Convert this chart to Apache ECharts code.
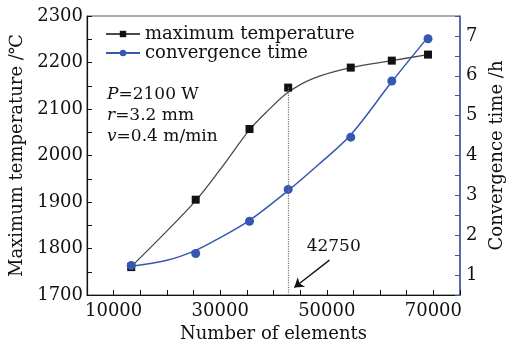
<!DOCTYPE html>
<html>
<head>
<meta charset="utf-8">
<script src="https://cdn.jsdelivr.net/npm/echarts@6/dist/echarts.min.js"></script>
<style>
  html, body { margin: 0; padding: 0; background: #fff; }
  #chart { width: 514px; height: 344px; }
</style>
</head>
<body>
<div id="chart"></div>
<script>
// measured points
var elements = [13300, 25400, 35500, 42750, 54500, 62200, 69000];
var maxTemperature = [1760, 1905, 2057, 2146, 2189, 2204, 2217];
var convergenceTime = [1.24, 1.54, 2.35, 3.15, 4.46, 5.87, 6.93];

// fitted curves
var tempCurveX = [13300, 19000, 25400, 30000, 35500, 39000, 42750, 47500, 54500, 62200, 69000];
var tempCurveY = [1761, 1826, 1903, 1970, 2055, 2097, 2136, 2166, 2189, 2204, 2217];
var timeCurveX = [13300, 20000, 25400, 30000, 35500, 42750, 48500, 54500, 62200, 69000];
var timeCurveY = [1.22, 1.37, 1.62, 1.94, 2.37, 3.12, 3.78, 4.52, 5.85, 6.97];

var xTickLabels = [10000, 30000, 50000, 70000];
var markedElements = 42750;

var fontFamily = '"DejaVu Serif", serif';
var blue = '#3557b0';
var dark = '#4a4a4a';

var chart = echarts.init(document.getElementById('chart'));

function pairs(xs, ys) {
	return xs.map(function (x, i) { return [x, ys[i]]; });
}

var option = {
	backgroundColor: '#fff',
	animation: false,
	textStyle: { fontFamily: fontFamily },
	grid: {
		left: 87,
		right: 54,
		top: 16,
		bottom: 49,
		outerBoundsMode: 'none',
		containLabel: false,
		show: true,
		borderColor: '#555',
		borderWidth: 1
	},
	legend: {
		orient: 'vertical',
		left: 100,
		top: 20,
		itemWidth: 34,
		itemHeight: 8,
		itemGap: 1,
		textStyle: { fontFamily: fontFamily, fontSize: 18, color: '#111' },
		data: ['maximum temperature', 'convergence time']
	},
	xAxis: {
		type: 'value',
		min: 5000,
		max: 75000,
		interval: 5000,
		name: 'Number of elements',
		nameLocation: 'middle',
		nameGap: 30,
		nameTextStyle: { fontFamily: fontFamily, fontSize: 18, color: '#111' },
		axisLine: { lineStyle: { color: '#111', width: 1.2 } },
		axisTick: { inside: true, length: 5, lineStyle: { color: '#111' } },
		splitLine: { show: false },
		axisLabel: {
			fontFamily: fontFamily,
			fontSize: 18,
			color: '#111',
			margin: 7,
			formatter: function (v) {
				return xTickLabels.indexOf(v) >= 0 ? String(v) : '';
			}
		}
	},
	yAxis: [{
		type: 'value',
		min: 1700,
		max: 2300,
		interval: 50,
		name: 'Maximum temperature /\u2103',
		nameLocation: 'middle',
		nameGap: 40,
		nameTextStyle: { fontFamily: fontFamily, fontSize: 18, color: '#111' },
		axisLine: { show: true, lineStyle: { color: '#111', width: 1.2 } },
		axisTick: { show: true, inside: true, length: 5, lineStyle: { color: '#111' } },
		splitLine: { show: false },
		axisLabel: {
			fontFamily: fontFamily,
			fontSize: 18,
			color: '#111',
			margin: 4,
			formatter: function (v) {
				return v % 100 === 0 ? String(v) : '';
			}
		}
	}, {
		type: 'value',
		min: 0.5,
		max: 7.5,
		interval: 0.5,
		position: 'right',
		name: 'Convergence time /h',
		nameLocation: 'middle',
		nameGap: 24,
		nameTextStyle: { fontFamily: fontFamily, fontSize: 18, color: '#111' },
		axisLine: { show: true, lineStyle: { color: blue, width: 1.5 } },
		axisTick: { show: true, inside: true, length: 5, lineStyle: { color: blue } },
		splitLine: { show: false },
		axisLabel: {
			fontFamily: fontFamily,
			fontSize: 18,
			color: '#111',
			margin: 6,
			formatter: function (v) {
				return v % 1 === 0 ? String(v) : '';
			}
		}
	}],
	graphic: [{
		type: 'text',
		left: 107,
		top: 84,
		style: {
			text: '{i|P}=2100 W\n{i|r}=3.2 mm\n{i|v}=0.4 m/min',
			font: '17px ' + fontFamily,
			fill: '#111',
			lineHeight: 21,
			rich: {
				i: { fontStyle: 'italic', fontFamily: fontFamily, fontSize: 17, fill: '#111' }
			}
		}
	}],
	series: [{
		name: 'maximum temperature',
		type: 'line',
		yAxisIndex: 0,
		smooth: 0.35,
		symbol: 'rect',
		symbolSize: 8,
		showSymbol: false,
		z: 2,
		lineStyle: { color: dark, width: 1.3 },
		itemStyle: { color: '#111' },
		data: pairs(tempCurveX, tempCurveY),
		markLine: {
			silent: true,
			symbol: ['none', 'none'],
			label: { show: false },
			lineStyle: { color: '#777', type: 'dotted', width: 1.2 },
			data: [[
				{ coord: [markedElements, maxTemperature[3]] },
				{ coord: [markedElements, 1700] }
			], [
				{ coord: [50500, 1775], symbol: 'none', lineStyle: { color: '#111', type: 'solid', width: 1.3 } },
				{ coord: [43900, 1716], symbol: 'arrow', symbolSize: 9, lineStyle: { color: '#111', type: 'solid', width: 1.3 } }
			]]
		},
		markPoint: {
			silent: true,
			symbol: 'circle',
			symbolSize: 0,
			label: {
				show: true,
				position: 'inside',
				fontFamily: fontFamily,
				fontSize: 17,
				color: '#111',
				formatter: String(markedElements)
			},
			data: [{ coord: [51300, 1805] }]
		}
	}, {
		name: 'convergence time',
		type: 'line',
		yAxisIndex: 1,
		smooth: 0.35,
		symbol: 'circle',
		symbolSize: 9,
		showSymbol: false,
		z: 2,
		lineStyle: { color: blue, width: 1.5 },
		itemStyle: { color: blue },
		data: pairs(timeCurveX, timeCurveY)
	}, {
		name: 'maximum temperature',
		type: 'scatter',
		yAxisIndex: 0,
		symbol: 'rect',
		symbolSize: 8,
		z: 3,
		itemStyle: { color: '#111', opacity: 1 },
		data: pairs(elements, maxTemperature)
	}, {
		name: 'convergence time',
		type: 'scatter',
		yAxisIndex: 1,
		symbol: 'circle',
		symbolSize: 9,
		z: 4,
		itemStyle: { color: blue, opacity: 1 },
		data: pairs(elements, convergenceTime)
	}]
};

chart.setOption(option);
</script>
</body>
</html>
